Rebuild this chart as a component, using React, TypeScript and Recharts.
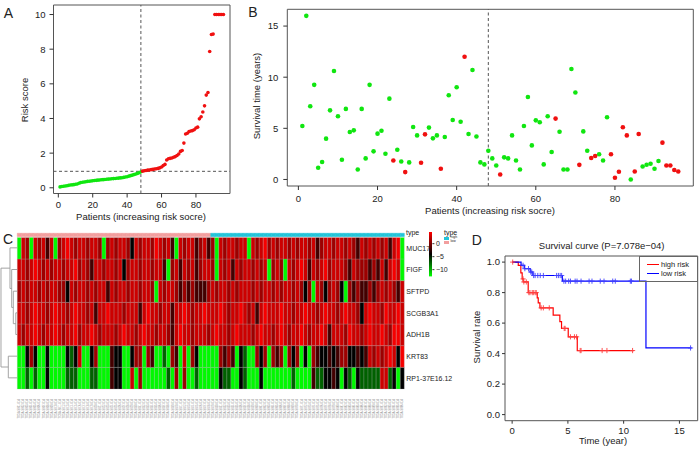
import React from "react";
import {
  Bar,
  BarChart,
  Cell,
  ComposedChart,
  Line,
  ReferenceArea,
  ReferenceLine,
  Scatter,
  ScatterChart,
  XAxis,
  YAxis,
} from "recharts";

const FONT = '"Liberation Sans", Arial, Helvetica, sans-serif';
const INK = "#222";
const AXIS = "#333";
const GREEN = "#10e610";
const RED = "#f01010";

// A: risk score, sorted; first 48 low risk, next 48 high risk
const riskLow = [
  0.05, 0.07, 0.09, 0.1, 0.12, 0.14, 0.16, 0.17, 0.18, 0.2, 0.22, 0.26, 0.3, 0.32, 0.33, 0.35,
  0.37, 0.38, 0.39, 0.41, 0.42, 0.43, 0.44, 0.45, 0.46, 0.47, 0.48, 0.49, 0.5, 0.51, 0.52, 0.53,
  0.54, 0.55, 0.56, 0.57, 0.58, 0.6, 0.62, 0.64, 0.67, 0.7, 0.73, 0.76, 0.79, 0.83, 0.87, 0.92,
];
const riskHigh = [
  0.96, 0.98, 1.0, 1.02, 1.03, 1.05, 1.06, 1.08, 1.1, 1.12, 1.15, 1.2, 1.28, 1.35, 1.6, 1.68,
  1.7, 1.72, 1.76, 1.8, 1.86, 1.95, 2.1, 2.15, 2.58, 3.1, 3.15, 3.25, 3.28, 3.3, 3.35, 3.45,
  3.5, 3.98, 4.1, 4.37, 4.73, 5.35, 5.5, 7.87, 8.85, 8.87, 10, 10, 10, 10, 10, 10,
];
const riskCutoff = 0.95;
const splitAt = 48;

// B: survival time (years) per patient, and which patients died
const survTime = [
  5.23, 16.0, 7.16, 9.25, 1.14, 1.7, 3.99, 6.76, 10.6, 6.18, 1.93, 6.9, 4.64, 4.8, 0.98, 6.9,
  2.06, 9.25, 2.75, 4.48, 4.77, 2.52, 7.9, 1.86, 2.9, 1.76, 0.72, 1.67, 5.13, 4.31, 1.63, 4.41,
  5.07, 4.02, 4.31, 1.05, 4.15, 8.24, 5.82, 9.02, 5.65, 12.0, 4.44, 10.7, 4.2, 1.67, 1.47, 2.8,
  2.06, 1.37, 0.49, 2.16, 2.06, 4.31, 1.86, 0.98, 5.23, 8.07, 3.33, 5.78, 5.59, 1.47, 6.18, 2.68,
  5.95, 4.67, 0.98, 0.98, 10.8, 8.5, 1.43, 4.7, 2.8, 2.1, 2.3, 2.47, 1.86, 6.08, 2.47, 0.16,
  0.75, 5.1, 4.31, 0.0, 0.78, 4.44, 1.27, 1.44, 1.54, 1.05, 1.8, 3.6, 1.37, 1.37, 0.92, 0.78,
];
const deadPatients = [24, 27, 31, 32, 36, 42, 51, 65, 71, 74, 75, 79, 80, 81, 82, 83, 85, 86, 92, 93, 94, 95, 96];

// C: heatmap levels per gene, one char per patient
// R bright red, r red, d dark red, m maroon, k black, n dark green, g green
const genes = ["MUC17", "FIGF", "SFTPD", "SCGB3A1", "ADH1B", "KRT83", "RP1-37E16.12"];
const heatRows: Record<string, string> = {
  MUC17: "grdgrdrmrgdrRrdrrdrrdgdrdrrdkrdrrdRrdrmgrdrrmdrmdgrdrrdrrgrdrRdrdrrdrdrrdrmdrrdrrdrdmrdrdrdrmrRg",
  FIGF: "rrdrRrdrdrrdrrRdrdmrrdrrdrkdrrdrrdrrmgdrmrdrmdrrdgrdrmrdrrdrdrgdrdgrdrRrmrdrRdrrrdmrdddmdmrmrRrg",
  SFTPD: "drdrrdrdrrddkrdrrdrdrrmrdrrdrrdrrdgrdrrdmdmdmmmdrdrrdrdrrrdrdrrdrdrrdrdkdgrdkdrdkgdmdmmdmdrdrdmr",
  SCGB3A1: "rrdrRrrdrRrrdrRrrdrmrrRrrrdrrrmrRrrdrrmrrRrdrrRrrrRrdrrRrdrmrRrrrRrrdrrRrrdrRrrdrRrrdkrRrrdRrrRr",
  ADH1B: "rdrrRrdrrRrdrrRdrrRrdrrrdrRrrdrRrrdrrdmrRrrdrrrdrRrrdrRrrrdrRrrdrRrdrrRrdrrRrmrrrdRrrdrRrrRrdRRr",
  KRT83: "ggkdkggkggggknkrggkdgggmkkggkddgdmggngdmgrgdkgggggdmdmgknggdkdgdmdgdkdgkgdmkkmkmddkkmkmrdrdrRrkR",
  "RP1-37E16.12": "ggngnggkggggnnngggnngggmkkggrgdggggggngdgdggngggggknnggkngggkgggggggnggggmnnkkmkgkngknnnnnrrnkg",
};
const levelValue: Record<string, number> = { R: 4.2, r: 2.8, d: 1.2, m: -1.8, k: -4.1, n: -7.3, g: -12.4 };
const colorMin = -12.6;
const colorMax = 4.5;
const colorTicks = [0, -5, -10];
const sampleIds = survTime.map((_, i) => `TCGA-S${String(i + 1).padStart(3, "0")}-01A`);

// row dendrogram: [child, child, height]
const dendroMerges: [string, string, number][] = [
  ["SCGB3A1", "ADH1B", 1.5],
  ["SFTPD", "m0", 4],
  ["FIGF", "m1", 5.6],
  ["MUC17", "m2", 7.3],
  ["KRT83", "RP1-37E16.12", 9],
  ["m3", "m4", 16.3],
];

// D: Kaplan-Meier steps [time, survival] and censor marks
const highSteps = [
  [0, 1], [0.55, 0.979], [0.78, 0.93], [0.9, 0.89], [0.99, 0.87], [1.44, 0.8], [2.25, 0.765],
  [2.34, 0.732], [2.49, 0.7], [3.68, 0.652], [4.28, 0.61], [4.43, 0.565], [5.03, 0.51],
  [5.84, 0.42], [10.9, 0.42],
];
const lowSteps = [
  [0, 1], [0.8, 0.979], [1.1, 0.957], [1.62, 0.935], [1.86, 0.912], [4.5, 0.875], [12.0, 0.437], [16.1, 0.437],
];
const highCensor = [
  [0.05, 1], [0.98, 0.89], [1.05, 0.87], [1.27, 0.87], [1.5, 0.8], [1.6, 0.8], [1.8, 0.8], [1.9, 0.8],
  [2.06, 0.8], [2.16, 0.8], [2.6, 0.7], [2.8, 0.7], [3.33, 0.7], [4.67, 0.565], [4.75, 0.565],
  [5.23, 0.51], [5.59, 0.51], [5.78, 0.51], [6.1, 0.42], [6.18, 0.42], [8.07, 0.42], [8.5, 0.42], [10.8, 0.42],
];
const lowCensor = [
  [0.98, 0.979], [1.14, 0.957], [1.47, 0.957], [1.67, 0.935], [1.76, 0.935], [1.93, 0.912], [2.06, 0.912],
  [2.3, 0.912], [2.52, 0.912], [2.8, 0.912], [3.99, 0.912], [4.15, 0.912], [4.31, 0.912], [4.44, 0.912],
  [4.64, 0.875], [4.8, 0.875], [5.07, 0.875], [5.23, 0.875], [5.65, 0.875], [5.82, 0.875], [6.18, 0.875],
  [6.9, 0.875], [7.16, 0.875], [7.9, 0.875], [8.24, 0.875], [9.02, 0.875], [9.25, 0.875], [10.6, 0.875],
  [10.7, 0.875], [16.0, 0.437],
];

const tickFont = { fontSize: 9.5, fill: INK };

function levelColor(v: number) {
  const t = (v - colorMin) / (colorMax - colorMin);
  if (t >= 0.5) return `rgb(${Math.round((t - 0.5) * 2 * 255)},0,0)`;
  return `rgb(0,${Math.round((0.5 - t) * 2 * 255)},0)`;
}

const dot = (r: number) => (p: any) => <circle cx={p.cx} cy={p.cy} r={r} fill={p.fill} />;
const plus = (p: any) => (
  <path d={`M${p.cx - 2.6},${p.cy}H${p.cx + 2.6}M${p.cx},${p.cy - 2.6}V${p.cy + 2.6}`} stroke={p.fill} strokeWidth={0.9} />
);

function Txt({ x, y, size = 9.5, rotate = 0, anchor = "middle", color = INK, children }: any) {
  const tx = anchor === "middle" ? "-50%" : anchor === "end" ? "-100%" : "0%";
  return (
    <div
      style={{
        position: "absolute",
        left: x,
        top: y,
        fontSize: size,
        lineHeight: 1,
        whiteSpace: "nowrap",
        color,
        transform: `translate(${tx}, -50%) rotate(${rotate}deg)`,
      }}
    >
      {children}
    </div>
  );
}

function RiskPanel() {
  const low = riskLow.map((y, i) => ({ x: i + 1, y }));
  const high = riskHigh.map((y, i) => ({ x: splitAt + i + 1, y }));
  const xd: [number, number] = [-2.8, 99.8];
  const yd: [number, number] = [-0.33, 10.55];
  return (
    <ScatterChart width={240} height={225} margin={{ top: 5, right: 10, left: 0, bottom: 0 }}>
      <XAxis type="number" dataKey="x" domain={xd} ticks={[0, 20, 40, 60, 80]} height={31.5}
        axisLine={false} tickSize={4} tickMargin={4} stroke={AXIS} tick={tickFont} allowDataOverflow />
      <YAxis type="number" dataKey="y" domain={yd} ticks={[0, 2, 4, 6, 8, 10]} width={53.5}
        axisLine={false} tickSize={4} tickMargin={4} stroke={AXIS} tick={tickFont} allowDataOverflow />
      <ReferenceArea x1={xd[0]} x2={xd[1]} y1={yd[0]} y2={yd[1]} fill="none" stroke="#555" ifOverflow="visible" />
      <ReferenceLine x={splitAt} stroke="#555" strokeDasharray="3 2.5" />
      <ReferenceLine y={riskCutoff} stroke="#555" strokeDasharray="3 2.5" />
      <Scatter data={low} fill={GREEN} shape={dot(1.8)} isAnimationActive={false} />
      <Scatter data={high} fill={RED} shape={dot(1.8)} isAnimationActive={false} />
    </ScatterChart>
  );
}

function SurvivalPanel() {
  const pts = survTime.map((y, i) => ({ x: i + 1, y }));
  const dead = pts.filter((p) => deadPatients.includes(p.x));
  const alive = pts.filter((p) => !deadPatients.includes(p.x));
  const xd: [number, number] = [-2.8, 99.8];
  const yd: [number, number] = [-0.64, 16.64];
  return (
    <ScatterChart width={465} height={225} margin={{ top: 9.3, right: 6.7, left: 0, bottom: 0 }}>
      <XAxis type="number" dataKey="x" domain={xd} ticks={[0, 20, 40, 60, 80]} height={39}
        axisLine={false} tickSize={4} tickMargin={5} stroke={AXIS} tick={tickFont} allowDataOverflow />
      <YAxis type="number" dataKey="y" domain={yd} ticks={[0, 5, 10, 15]} width={52.3}
        axisLine={false} tickSize={4} tickMargin={5} stroke={AXIS} tick={tickFont} allowDataOverflow />
      <ReferenceArea x1={xd[0]} x2={xd[1]} y1={yd[0]} y2={yd[1]} fill="none" stroke="#555" ifOverflow="visible" />
      <ReferenceLine x={splitAt} stroke="#555" strokeDasharray="3 2.5" />
      <Scatter data={alive} fill={GREEN} shape={dot(2.3)} isAnimationActive={false} />
      <Scatter data={dead} fill={RED} shape={dot(2.3)} isAnimationActive={false} />
    </ScatterChart>
  );
}

const SampleTick = ({ x, y, payload }: any) => (
  <text x={x} y={y + 2} transform={`rotate(-90 ${x} ${y + 2})`} textAnchor="end" dy={1} fontSize={2.6} fill="#8a8a8a">
    {payload.value}
  </text>
);

function HeatmapPanel() {
  const bottomUp = [...genes].reverse();
  const data = sampleIds.map((s, i) => {
    const row: any = { sample: s, type: i < splitAt ? "low" : "high", gap: 0.037, band: 0.148 };
    genes.forEach((g) => (row[g] = 1));
    return row;
  });
  return (
    <BarChart width={470} height={230} data={data} margin={{ top: 13.3, right: 0, left: 17.3, bottom: 0 }}
      barCategoryGap={0} barGap={0}>
      <XAxis dataKey="sample" interval={0} height={61} tickLine={false} axisLine={false} tick={<SampleTick />} />
      <YAxis type="number" orientation="right" domain={[0, 7.185]} ticks={[0.5, 1.5, 2.5, 3.5, 4.5, 5.5, 6.5]}
        width={65.7} tickLine={false} axisLine={false} tickSize={0} tickMargin={2} interval={0}
        tickFormatter={(v: number) => bottomUp[Math.floor(v)]} tick={{ fontSize: 7, fill: INK }} />
      {bottomUp.map((g) => (
        <Bar key={g} dataKey={g} stackId="h" isAnimationActive={false} stroke="#a8a8a8" strokeWidth={0.25}>
          {data.map((_, i) => (
            <Cell key={i} fill={levelColor(levelValue[heatRows[g][i]])} />
          ))}
        </Bar>
      ))}
      <Bar dataKey="gap" stackId="h" fill="#fff" isAnimationActive={false} />
      <Bar dataKey="band" stackId="h" isAnimationActive={false}>
        {data.map((d, i) => {
          const c = d.type === "low" ? "#f29e9e" : "#22c4d8";
          return <Cell key={i} fill={c} stroke={c} strokeWidth={0.6} />;
        })}
      </Bar>
    </BarChart>
  );
}

function Dendrogram() {
  const pos: Record<string, { y: number; h: number }> = {};
  genes.forEach((g, i) => (pos[g] = { y: genes.length - i - 0.5, h: 0 }));
  const segs: { x1: number; y1: number; x2: number; y2: number }[] = [];
  dendroMerges.forEach(([a, b, h], k) => {
    const pa = pos[a];
    const pb = pos[b];
    segs.push({ x1: h, y1: pa.y, x2: h, y2: pb.y });
    segs.push({ x1: pa.h, y1: pa.y, x2: h, y2: pa.y });
    segs.push({ x1: pb.h, y1: pb.y, x2: h, y2: pb.y });
    pos["m" + k] = { y: (pa.y + pb.y) / 2, h };
  });
  const leaves = genes.map((g) => ({ x: 0, y: pos[g].y }));
  return (
    <ScatterChart width={17.3} height={151.7} margin={{ top: 0, right: 0, left: 0, bottom: 0 }}>
      <XAxis type="number" dataKey="x" domain={[0, 17.3]} reversed hide />
      <YAxis type="number" dataKey="y" domain={[0, 7]} hide />
      <Scatter data={leaves} shape={() => <g />} isAnimationActive={false} />
      {segs.map((s, i) => (
        <ReferenceLine key={i} segment={[{ x: s.x1, y: s.y1 }, { x: s.x2, y: s.y2 }]}
          stroke="#9a9a9a" strokeWidth={0.9} ifOverflow="visible" />
      ))}
    </ScatterChart>
  );
}

function ColorBar() {
  return (
    <BarChart width={30} height={44.4} data={[{ k: "z", v: [colorMin, colorMax] }]}
      margin={{ top: 0, right: 0, left: 0, bottom: 0 }} barCategoryGap={0}>
      <defs>
        <linearGradient id="cbar" x1="0" y1="0" x2="0" y2="1">
          <stop offset="0%" stopColor="#ff0000" />
          <stop offset="50%" stopColor="#000000" />
          <stop offset="100%" stopColor="#00ff00" />
        </linearGradient>
      </defs>
      <XAxis dataKey="k" hide />
      <YAxis type="number" orientation="right" domain={[colorMin, colorMax]} ticks={colorTicks} width={26.6}
        axisLine={false} tickSize={2} tickMargin={1.5} stroke={AXIS} interval={0}
        tickFormatter={(v: number) => String(v).replace("-", "\u2212")} tick={{ fontSize: 7, fill: INK }} />
      <Bar dataKey="v" fill="url(#cbar)" isAnimationActive={false} />
    </BarChart>
  );
}

function KMPanel() {
  const toPts = (a: number[][]) => a.map(([t, s]) => ({ t, s }));
  const xd: [number, number] = [-0.64, 16.64];
  const yd: [number, number] = [-0.04, 1.04];
  return (
    <ComposedChart width={240} height={220} margin={{ top: 26, right: 2.3, left: 0, bottom: 0 }}>
      <XAxis type="number" dataKey="t" domain={xd} ticks={[0, 5, 10, 15]} height={29.3}
        axisLine={false} tickSize={3} tickMargin={4} stroke={AXIS} tick={tickFont} allowDataOverflow />
      <YAxis type="number" domain={yd} ticks={[0, 0.2, 0.4, 0.6, 0.8, 1]} width={45}
        axisLine={false} tickSize={3} tickMargin={2} stroke={AXIS} tick={tickFont}
        tickFormatter={(v: number) => v.toFixed(1)} allowDataOverflow />
      <ReferenceArea x1={xd[0]} x2={xd[1]} y1={yd[0]} y2={yd[1]} fill="none" stroke="#555" ifOverflow="visible" />
      <Line data={toPts(highSteps)} dataKey="s" type="stepAfter" stroke="#ff0000" strokeWidth={1.2} dot={false} isAnimationActive={false} />
      <Line data={toPts(lowSteps)} dataKey="s" type="stepAfter" stroke="#0000ff" strokeWidth={1.2} dot={false} isAnimationActive={false} />
      <Scatter data={toPts(highCensor)} dataKey="s" fill="#ff4040" shape={plus} isAnimationActive={false} />
      <Scatter data={toPts(lowCensor)} dataKey="s" fill="#4040ff" shape={plus} isAnimationActive={false} />
    </ComposedChart>
  );
}

export default function App() {
  return (
    <div style={{ position: "absolute", left: 0, top: 0, width: 700, height: 450, background: "#fff", fontFamily: FONT, color: INK, overflow: "hidden" }}>
      <div style={{ position: "absolute", left: 0, top: 0 }}><RiskPanel /></div>
      <div style={{ position: "absolute", left: 235, top: 0 }}><SurvivalPanel /></div>
      <div style={{ position: "absolute", left: 0, top: 220 }}><HeatmapPanel /></div>
      <div style={{ position: "absolute", left: 0, top: 237.3 }}><Dendrogram /></div>
      <div style={{ position: "absolute", left: 429.3, top: 232.3 }}><ColorBar /></div>
      <div style={{ position: "absolute", left: 460, top: 230 }}><KMPanel /></div>

      <Txt x={8.3} y={12.8} size={14}>A</Txt>
      <Txt x={253} y={12} size={14}>B</Txt>
      <Txt x={8} y={239} size={14}>C</Txt>
      <Txt x={476.7} y={240} size={14}>D</Txt>

      <Txt x={24.5} y={100} rotate={-90}>Risk score</Txt>
      <Txt x={141} y={216.7}>Patients (increasing risk socre)</Txt>
      <Txt x={256.7} y={96} rotate={-90}>Survival time (years)</Txt>
      <Txt x={490} y={210.7}>Patients (increasing risk socre)</Txt>

      <Txt x={406} y={232} size={7} anchor="start">type</Txt>
      <Txt x={444} y={231.5} size={7} anchor="start">type</Txt>
      <div style={{ position: "absolute", left: 444.3, top: 236.5, width: 5, height: 3.5, background: "#22c4d8" }} />
      <div style={{ position: "absolute", left: 444.3, top: 240.5, width: 5, height: 3.5, background: "#f29e9e" }} />
      <Txt x={450.5} y={238.3} size={3.5} anchor="start">high</Txt>
      <Txt x={450.5} y={242.3} size={3.5} anchor="start">low</Txt>

      <Txt x={601.7} y={246}>Survival curve (P=7.078e{"\u2212"}04)</Txt>
      <Txt x={476.7} y={337} rotate={-90}>Survival rate</Txt>
      <Txt x={603} y={440.7}>Time (year)</Txt>
      <div style={{ position: "absolute", left: 639.3, top: 256, width: 58.4, height: 26.3, boxSizing: "border-box", border: "1px solid #666" }} />
      <div style={{ position: "absolute", left: 646.7, top: 263.8, width: 12.3, height: 1.2, background: "#ff0000" }} />
      <div style={{ position: "absolute", left: 646.7, top: 273.2, width: 12.3, height: 1.2, background: "#0000ff" }} />
      <Txt x={661} y={264.5} size={7.5} anchor="start">high risk</Txt>
      <Txt x={661} y={274} size={7.5} anchor="start">low risk</Txt>
    </div>
  );
}
